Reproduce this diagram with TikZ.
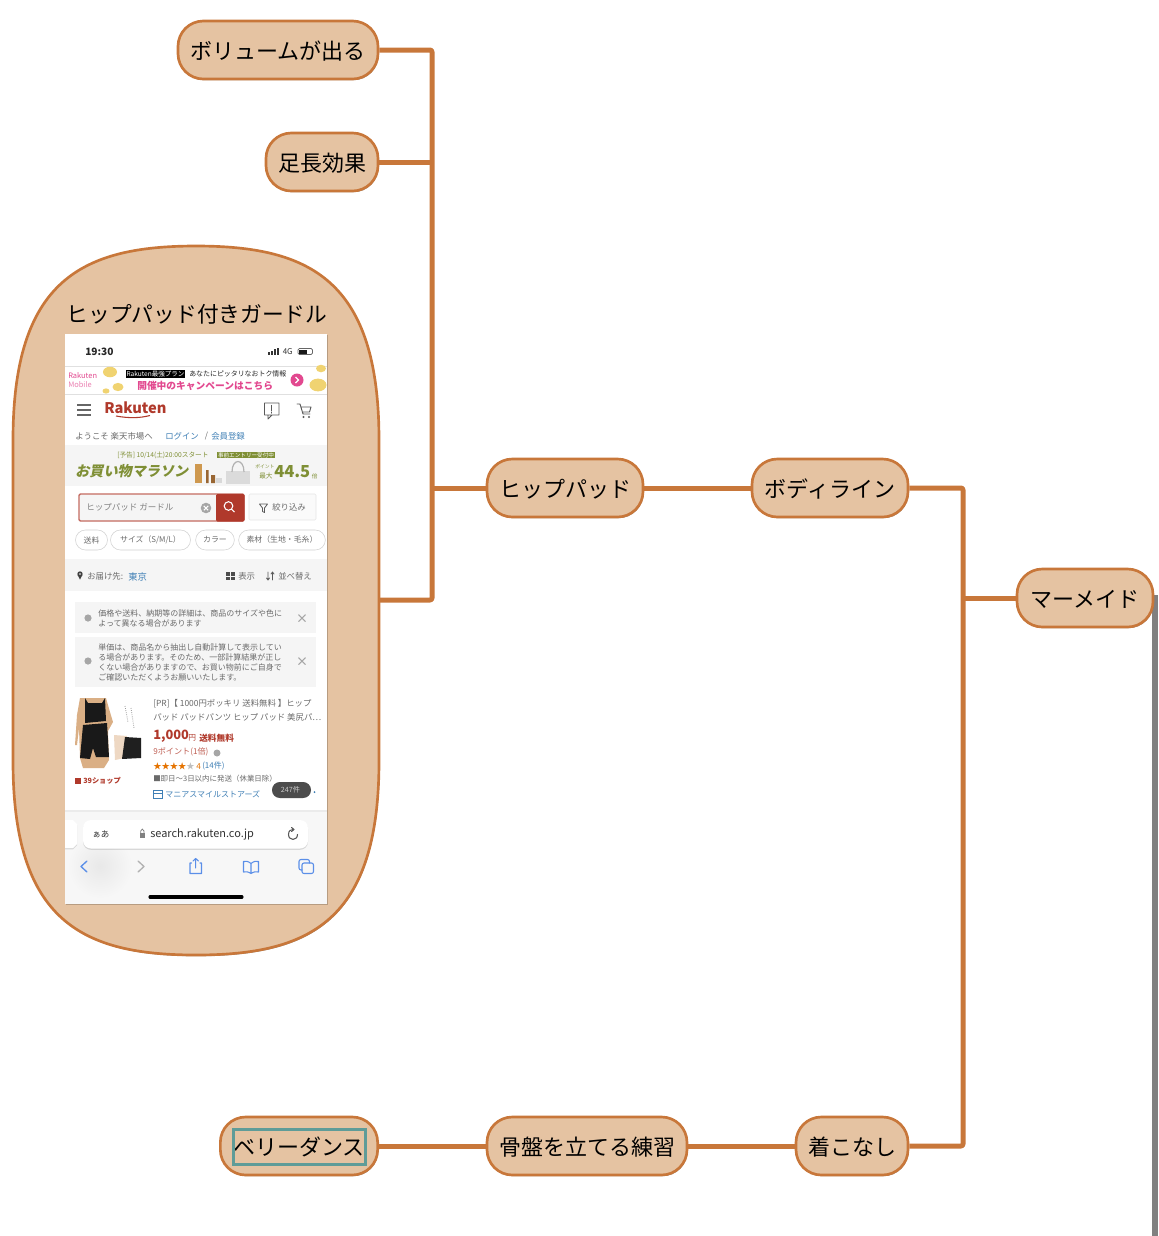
\documentclass[tikz,border=0pt]{standalone}
\usepackage{fontspec}
\setmainfont{Noto Sans CJK JP}
\newfontfamily\slantcjk[BoldFeatures={FakeSlant=0.2}]{Noto Sans CJK JP}
\usetikzlibrary{shadows}
\definecolor{mapline}{HTML}{C8773A}
\definecolor{mapfill}{HTML}{E5C3A2}
\definecolor{markteal}{HTML}{5F9C98}
\definecolor{shotgray}{HTML}{F5F5F5}
\definecolor{shottext}{HTML}{6A6A6A}
\definecolor{shotlink}{HTML}{3F7FB5}
\definecolor{shotred}{HTML}{B0392B}
\definecolor{shotpink}{HTML}{E2488F}
\definecolor{shotolive}{HTML}{7F8F35}
\definecolor{shotgold}{HTML}{F0D371}
\definecolor{shotblue}{HTML}{5B8FE8}
\tikzset{
  halo/.style={drop shadow={shadow xshift=0.5pt,shadow yshift=-0.9pt,fill=black,opacity=0.45}},
  topic/.style={draw=mapline,fill=mapfill,line width=2pt,rounded corners=19pt,minimum height=43.5pt,
    inner sep=0pt,text height=15.5pt,text depth=0.7pt,font=\fontsize{16.5}{16.5}\selectfont,halo},
  link/.style={draw=mapline,line width=3.75pt,line join=round,rounded corners=1.5pt},
  txt/.style={inner sep=0pt,anchor=west,text=shottext,font=\fontsize{#1}{#1}\selectfont},
  txt/.default=6,
  chip/.style={draw=black!18,fill=white,rounded corners=7.5pt,minimum height=15pt,inner sep=0pt,text=shottext,font=\fontsize{5.9}{5.9}\selectfont},
  note/.style={fill=shotgray},
  icon/.style={draw=black!65,line width=0.7pt,line cap=round,line join=round},
  tool/.style={draw=shotblue,line width=0.8pt,line cap=round,line join=round}
}
\begin{document}
\begin{tikzpicture}[x=0.75pt,y=0.75pt,yscale=-1,xscale=1]
\useasboundingbox (0,0) rectangle (1158,1236);
% gray edge on the right
\fill [black!50] (1152,595) rectangle (1158,1236);
% connector ends
\coordinate (girdle) at (379,600);
\coordinate (trunktop) at (432,50);
\coordinate (trunkbottom) at (432,600);
\coordinate (risertop) at (963,488);
\coordinate (riserbottom) at (963,1146);
% map nodes
\node (volume) [topic,minimum width=150pt] at (278,50) {ボリュームが出る};
\node (legs) [topic,minimum width=84pt] at (322,162) {足長効果};
\node (hip) [topic,minimum width=117pt] at (565,488) {ヒップパッド};
\node (bodyline) [topic,minimum width=117pt] at (830,488) {ボディライン};
\node (mermaid) [topic,minimum width=102pt] at (1085,598) {マーメイド};
\node (wearing) [topic,minimum width=84pt] at (852,1146) {着こなし};
\node (pelvis) [topic,minimum width=150pt] at (587,1146) {骨盤を立てる練習};
\node (belly) [topic,minimum width=118pt] at (299,1146) {ベリーダンス};
\node (bellymark) [draw=markteal,line width=2.4pt,minimum width=99pt,minimum height=26pt,inner sep=0pt] at (299.5,1147) {};
% connectors
\draw [link] (volume.east) -- (trunktop) -- (trunkbottom) -- (girdle);
\draw [link] (legs.east) -- (legs.east -| trunktop);
\draw [link] (hip.west) -- (hip.west -| trunktop);
\draw [link] (hip.east) -- (bodyline.west);
\draw [link] (bodyline.east) -- (risertop) -- (riserbottom) -- (wearing.east);
\draw [link] (mermaid.west) -- (mermaid.west -| risertop);
\draw [link] (wearing.west) -- (pelvis.east);
\draw [link] (pelvis.west) -- (belly.east);
% large topic with the screenshot
\draw [draw=mapline,fill=mapfill,line width=2pt,halo] (196,246) .. controls (310,246) and (379,280) .. (379,440) -- (379,761)
  .. controls (379,921) and (310,955) .. (196,955) .. controls (82,955) and (13,921) .. (13,761) -- (13,440)
  .. controls (13,280) and (82,246) .. (196,246) -- cycle;
\node (girdletitle) [inner sep=0pt,text height=15.5pt,text depth=0.7pt,font=\fontsize{16.3}{16.3}\selectfont] at (197,313) {ヒップパッド付きガードル};
% phone screen
\fill [white,drop shadow={shadow xshift=0.4pt,shadow yshift=-0.4pt,fill=black,opacity=0.2}] (65,334) rectangle (327,904);
\node (clock) [txt=7.6,text=black!85,font=\bfseries\fontsize{7.6}{7.6}\selectfont] at (85,351.5) {19:30};
\foreach \i in {0,1,2,3}
  \fill [black!80] (268+3*\i,354.5) rectangle (270+3*\i,352-1.5*\i);
\node (net) [txt=6,text=black!80] at (282.5,351.5) {4G};
\draw [black!60,line width=0.5pt,rounded corners=1pt] (298,348.5) rectangle (312.5,354.5);
\fill [black!90] (299,349.5) rectangle (307,353.5);
% campaign strip
\draw [black!12,line width=0.6pt] (65,366) -- (327,366) (65,394.5) -- (327,394.5);
\foreach \cx/\cy/\r in {110/372/7,118/387/5.5,106/391/3.5,318/385/8.5,321/368.5/5}
  \fill [shotgold] (\cx,\cy) ellipse ({\r} and {\r*0.75});
\node (mobilea) [txt=5.6,text=shotpink] at (68,376) {Rakuten};
\node (mobileb) [txt=5.6,text=shotpink!70] at (68,384.5) {Mobile};
\node (planlabel) [fill=black,text=white,inner sep=0.6pt,font=\fontsize{4.9}{4.9}\selectfont] at (155.5,374) {Rakuten最強プラン};
\node (planline) [txt=5.2,text=black!85] at (189,374) {あなたにピッタリなおトク情報};
\node (campaign) [txt=7.3,text=shotpink,font=\bfseries\fontsize{7.3}{7.3}\selectfont] at (137,386) {開催中のキャンペーンはこちら};
\fill [shotpink] (297,380) circle (6.5);
\draw [white,line width=1pt] (295.5,377) -- (298.5,380) -- (295.5,383);
% nav row
\foreach \y in {405,410,415}
  \draw [black!60,line width=1.1pt] (77,\y) -- (91,\y);
\node (logo) [txt=11,text=shotred,font=\bfseries\fontsize{11}{11}\selectfont] at (104,408) {Rakuten};
\draw [shotred,line width=0.8pt] (116,416) .. controls (130,418.5) and (140,418) .. (150,415.5);
\draw [icon] (264.5,403) rectangle (279,415) (268,415) -- (268,419) -- (272,415);
\draw [icon,line width=1pt] (271.7,405.5) -- (271.7,410.5) (271.7,412.3) -- (271.7,413);
\draw [icon] (297,404) -- (300,404) -- (303,414) -- (310,414) (301,407) -- (311,407) -- (309.5,412) -- (302.5,412);
\fill [black!65] (303.5,417) circle (1.1) (309,417) circle (1.1);
% login row
\node (welcome) [txt=6.3] at (75,436) {ようこそ 楽天市場へ};
\node (login) [txt=6.3,text=shotlink] at (165,436) {ログイン};
\node (slash) [txt=6.1] at (204.5,436) {/};
\node (signup) [txt=6.3,text=shotlink] at (211,436) {会員登録};
% marathon banner
\fill [shotgray] (65,445) rectangle (327,486);
\node (notice) [txt=5,text=shotolive] at (117,455) {[予告] 10/14(土)20:00スタート};
\node (entry) [fill=shotolive,text=white,inner sep=0.5pt,minimum width=43pt,font=\fontsize{4.2}{4.2}\selectfont] at (246,455) {事前エントリー受付中};
\node (marathon) [txt=10.6,text=shotolive,font=\slantcjk\bfseries\fontsize{10.6}{10.6}\selectfont] at (75,471) {お買い物マラソン};
\fill [brown!70!shotgold] (195,464) rectangle (202,483);
\fill [brown!80!black] (206,470) rectangle (208.5,483) (211,475) rectangle (215,483);
\fill [black!15] (216,478) rectangle (222,483);
\fill [black!14] (226,471) rectangle (250,484);
\draw [black!30,line width=0.9pt] (232,472) .. controls (232,458) and (244,458) .. (244,472);
\node (pointa) [txt=3.6,text=shotolive] at (255,467) {ポイント};
\node (pointb) [txt=5,text=shotolive] at (259,476) {最大};
\node (rate) [txt=12.4,text=shotolive,font=\bfseries\fontsize{12.4}{12.4}\selectfont] at (274,472) {44.5};
\node (ratebai) [txt=4.2,text=shotolive] at (311.5,476.5) {倍};
% search
\draw [shotred!75,fill=shotgray,line width=1pt,rounded corners=1pt] (79,494) rectangle (244,521);
\fill [shotred,rounded corners=1pt] (216,494) rectangle (244.5,521.5);
\node (query) [txt=6.4,text=black!50] at (86,507) {ヒップパッド ガードル};
\fill [black!35] (206,508) circle (5.3);
\draw [white,line width=0.8pt] (203.8,505.8) -- (208.2,510.2) (208.2,505.8) -- (203.8,510.2);
\draw [white,line width=0.8pt] (228.5,506) circle (4.3) (231.7,509.2) -- (234.5,512);
\draw [black!10,fill=white!98!black,rounded corners=1pt] (249,494) rectangle (316,520);
\draw [icon,line width=0.6pt] (259.5,504) -- (267.5,504) -- (264.5,508) -- (264.5,512.5) -- (262.5,511.5) -- (262.5,508) -- cycle;
\node (refine) [txt=6.3] at (272,507) {絞り込み};
% chips
\node (chipa) [chip,minimum width=24pt] at (91.5,540) {送料};
\node (chipb) [chip,minimum width=60pt] at (150.5,540) {サイズ（S/M/L）};
\node (chipc) [chip,minimum width=29pt] at (215,540) {カラー};
\node (chipd) [chip,minimum width=65pt] at (282,540) {素材（生地・毛糸）};
% delivery row
\fill [shotgray] (65,559) rectangle (327,591);
\fill [black!75] (80,574) circle (2.7);
\fill [black!75] (77.6,575) -- (82.4,575) -- (80,579.5) -- cycle;
\fill [white] (80,574) circle (0.9);
\node (deliver) [txt=6.3] at (87,576) {お届け先:};
\node (tokyo) [txt=7,text=shotlink] at (128,576.5) {東京};
\foreach \gx/\gy in {226/572,230.7/572,226/576.5,230.7/576.5}
  \fill [black!70] (\gx,\gy) rectangle ++(3.8,3.8);
\node (view) [txt=6.3] at (238,576) {表示};
\draw [icon,line width=0.6pt] (268,572) -- (268,580) (266.5,578) -- (268,580) -- (269.5,578) (272.5,580) -- (272.5,572) (271,574) -- (272.5,572) -- (274,574);
\node (sort) [txt=6.3] at (278,576) {並べ替え};
% notices
\fill [note] (75,602) rectangle (316,633);
\fill [note] (75,637) rectangle (316,687);
\fill [black!35] (88,618) circle (3.6) (88,661) circle (3.6);
\draw [black!35,line width=0.8pt] (298.5,614.5) -- (305.5,621.5) (305.5,614.5) -- (298.5,621.5)
  (298.5,657.5) -- (305.5,664.5) (305.5,657.5) -- (298.5,664.5);
\node (noteaa) [txt=6] at (98,613) {価格や送料、納期等の詳細は、商品のサイズや色に};
\node (noteab) [txt=6] at (98,623) {よって異なる場合があります};
\node (noteba) [txt=6] at (98,647) {単価は、商品名から抽出し自動計算して表示してい};
\node (notebb) [txt=6] at (98,657) {る場合があります。そのため、一部計算結果が正し};
\node (notebc) [txt=6] at (98,667) {くない場合がありますので、お買い物前にご自身で};
\node (notebd) [txt=6] at (98,677) {ご確認いただくようお願いいたします。};
% product photo
\fill [brown!30!mapfill] (80,698) -- (106,698) -- (110,712) -- (113,722) -- (108,731) -- (109,760) -- (104,768) -- (83,768) -- (80,758) -- (79,728) -- (77,745) -- (75,745) -- (77,715) -- cycle;
\fill [black!90] (85,698) -- (88,703) -- (102,703) -- (105,698) -- (106,721) -- (85,723) -- cycle;
\fill [black!90] (83,725) -- (107,723) -- (109,757) -- (96,757) -- (93,748) -- (90,759) -- (80,758) -- cycle;
\fill [mapfill!65!white] (114,735) -- (127,736) -- (125,758) -- (115,760) -- cycle;
\fill [black!88] (125,737) -- (141,738) -- (141,758) -- (122,759) -- cycle;
\draw [black!40,line width=0.6pt,densely dotted] (125,706) -- (128,722) (131,708) -- (134,728);
\fill [shotred] (75,778) rectangle (81,784);
\node (shop) [txt=5.4,text=shotred,font=\bfseries\fontsize{5.4}{5.4}\selectfont] at (83,781) {39ショップ};
% product text
\node (titlea) [txt=6.3] at (153,704) {[PR]【 1000円ポッキリ 送料無料 】ヒップ};
\node (titleb) [txt=6.3] at (153,717) {パッド パッドパンツ ヒップ パッド 美尻パ…};
\node (price) [txt=9.6,text=shotred,font=\bfseries\fontsize{9.6}{9.6}\selectfont] at (153,736) {1,000};
\node (yen) [txt=5.8,text=shotred] at (188,738) {円};
\node (freeship) [txt=6.5,text=shotred,font=\bfseries\fontsize{6.5}{6.5}\selectfont] at (199,738) {送料無料};
\node (points) [txt=6.1,text=shotred!80] at (153,752) {9ポイント(1倍)};
\fill [black!35] (217,753) circle (3.5);
\node (stars) [txt=6.2,text=orange!90!black] at (153,766) {★★★★\textcolor{black!25}{★} 4};
\node (reviews) [txt=6,text=shotlink] at (202,766) {(14件)};
\node (ship) [txt=5.6] at (153,779) {■即日〜3日以内に発送（休業日除）};
\draw [shotlink,line width=0.7pt] (153.5,790) -- (162.5,790) -- (162.5,798.5) -- (153.5,798.5) -- cycle (153.5,793) -- (162.5,793);
\node (store) [txt=6,text=shotlink] at (165,794) {マニアスマイルストアーズ};
\fill [black!70,rounded corners=5.9pt] (272,782) rectangle (311,798);
\node (count) [txt=5.4,text=white!80!black] at (280.5,790) {247件};
\fill [shotlink] (314.5,792) circle (1);
% browser bar
\draw [black!8,line width=1.5pt] (65,811) -- (327,811);
\fill [black!3] (65,812) rectangle (327,904);
\shade [inner color=black!9,outer color=black!3] (100,866) circle (33);
\fill [white,drop shadow={shadow xshift=0pt,shadow yshift=-1pt,fill=black,opacity=0.12}] (65,820) -- (73,820) -- (77,824) -- (77,844) -- (73,848) -- (65,848) -- cycle;
\fill [white,rounded corners=6pt,drop shadow={shadow xshift=0pt,shadow yshift=-1pt,fill=black,opacity=0.12}] (83,820) rectangle (308,848.5);
\node (aa) [txt=6.4,text=black!80] at (92,834.5) {ぁあ};
\fill [black!50] (139.5,833) rectangle (145,838);
\draw [black!50,line width=0.6pt] (140.7,833) -- (140.7,831) .. controls (140.7,828.5) and (144,828.5) .. (144,831) -- (144,833);
\node (url) [txt=8.2,text=black!80] at (150,834.5) {search.rakuten.co.jp};
\draw [icon,line width=0.8pt] (297.5,834.5) .. controls (297.5,841) and (288.5,841) .. (288.5,834.5) .. controls (288.5,830.5) and (291,829.5) .. (293,829.5);
\draw [icon,line width=0.8pt] (291.5,827.5) -- (294,829.5) -- (291.5,831.5);
% toolbar icons
\draw [tool,line width=1pt] (87,861) -- (81,866.5) -- (87,872);
\draw [black!30,line width=1pt,line cap=round,line join=round] (138,861) -- (144,866.5) -- (138,872);
\draw [tool] (191.5,863) -- (190,863) -- (190,873.5) -- (201.5,873.5) -- (201.5,863) -- (200,863) (195.7,868) -- (195.7,858.5) (193,861) -- (195.7,858.5) -- (198.5,861);
\draw [tool] (251,863.5) .. controls (248,861) and (246,861) .. (243.5,861.5) -- (243.5,872) .. controls (246,871.5) and (248,871.5) .. (251,873.5) .. controls (254,871.5) and (256,871.5) .. (258.5,872) -- (258.5,861.5) .. controls (256,861) and (254,861) .. (251,863.5) -- (251,873.5);
\draw [tool,rounded corners=1.5pt] (302,863) rectangle (313.5,873.5);
\draw [tool,rounded corners=1.5pt] (302,870) -- (299,870) -- (299,859.5) -- (309.5,859.5) -- (309.5,863);
\draw [black,line width=2.3pt,line cap=round] (150,897) -- (242,897);
\end{tikzpicture}
\end{document}
